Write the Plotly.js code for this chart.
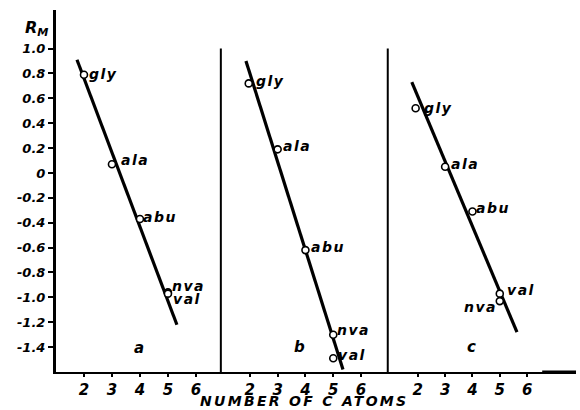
<!DOCTYPE html>
<html>
<head>
<meta charset="utf-8">
<script src="https://cdn.plot.ly/plotly-3.0.1.min.js"></script>
<style>html,body{margin:0;padding:0;background:#fff;}#chart{width:580px;height:410px;}</style>
</head>
<body>
<div id="chart"></div>
<script>
// ---- data ----
const aminoAcids = ['gly', 'ala', 'abu', 'nva', 'val'];
const carbonsA = [2, 3, 4, 5, 5];
const rmA = [0.79, 0.07, -0.37, -0.96, -0.97];
const carbonsB = [1.96, 3, 4, 5, 5];
const rmB = [0.72, 0.19, -0.62, -1.30, -1.49];
const carbonsC = [1.92, 3, 4, 5, 5];
const rmC = [0.52, 0.05, -0.31, -1.03, -0.97];
const fitXA = [1.75, 5.32], fitYA = [0.91, -1.22];
const fitXB = [1.86, 5.35], fitYB = [0.90, -1.58];
const fitXC = [1.78, 5.63], fitYC = [0.73, -1.28];
const panelLetters = ['a', 'b', 'c'];
const xTickVals = [2, 3, 4, 5, 6];
const yTickVals = [1.0, 0.8, 0.6, 0.4, 0.2, 0, -0.2, -0.4, -0.6, -0.8, -1.0, -1.2, -1.4];
const yTickText = ['1.0', '0.8', '0.6', '0.4', '0.2', '0', '-0.2', '-0.4', '-0.6', '-0.8', '-1.0', '-1.2', '-1.4'];
const xTitle = 'NUMBER OF C ATOMS';

// ---- styling ----
const FONT = 'DejaVu Sans, Verdana, sans-serif';
const f = (size) => ({family: FONT, size: size, color: '#000', weight: 'bold', style: 'italic'});
const spaced = (t, px) => '<span style="letter-spacing:' + px + 'px">' + t + '</span>';

const panels = [
  {xs: carbonsA, ys: rmA, fx: fitXA, fy: fitYA, xa: 'x', ya: 'y'},
  {xs: carbonsB, ys: rmB, fx: fitXB, fy: fitYB, xa: 'x2', ya: 'y'},
  {xs: carbonsC, ys: rmC, fx: fitXC, fy: fitYC, xa: 'x3', ya: 'y'}
];
// label offsets (px) per panel per amino acid: [xshift, yshift, anchor]
const labelOffsets = [
  [[4, 1, 'left'], [8, 4, 'left'], [2, 2, 'left'], [3, 6, 'left'], [4, -5, 'left']],
  [[6, 2, 'left'], [4, 3, 'left'], [5, 3, 'left'], [3, 5, 'left'], [4, 3, 'left']],
  [[7, 0, 'left'], [5, 3, 'left'], [3, 4, 'left'], [-2, -6, 'right'], [6, 4, 'left']]
];

const traces = [];
const annotations = [];
panels.forEach((p, i) => {
  traces.push({x: p.fx, y: p.fy, xaxis: p.xa, yaxis: p.ya, mode: 'lines',
    line: {color: '#000', width: 3.2}, hoverinfo: 'skip', showlegend: false});
  traces.push({x: p.xs, y: p.ys, xaxis: p.xa, yaxis: p.ya, mode: 'markers',
    marker: {symbol: 'circle', size: 7, color: '#fff', line: {color: '#000', width: 1.6}},
    showlegend: false, text: aminoAcids});
  aminoAcids.forEach((name, j) => {
    const o = labelOffsets[i][j];
    annotations.push({x: p.xs[j], y: p.ys[j], xref: p.xa, yref: p.ya, text: spaced(name, 1.5),
      showarrow: false, xanchor: o[2], yanchor: 'middle', xshift: o[0], yshift: o[1],
      borderpad: 0, font: f(14)});
  });
});
const letterPos = [[3.96, -1.41], [3.8, -1.40], [3.96, -1.40]];
panelLetters.forEach((t, i) => {
  annotations.push({x: letterPos[i][0], y: letterPos[i][1], xref: panels[i].xa, yref: 'y',
    text: t, showarrow: false, font: f(15)});
});
annotations.push({x: 0.4775, y: 0, xref: 'paper', yref: 'paper', xanchor: 'center', yanchor: 'bottom',
  yshift: -38, text: spaced(xTitle, 2.3), showarrow: false, borderpad: 0, font: f(14)});
annotations.push({x: 0, y: 1, xref: 'paper', yref: 'paper', xanchor: 'right', yanchor: 'top',
  xshift: -7, yshift: -7, text: 'R<sub>M</sub>', showarrow: false, borderpad: 0, font: f(16)});

const xax = (dom, rng) => ({domain: dom, range: rng, anchor: 'y', showgrid: false, zeroline: false,
  showline: true, linewidth: 2, linecolor: '#000', ticks: 'outside', ticklen: 3, tickwidth: 2,
  tickcolor: '#000', tickvals: xTickVals, tickfont: f(15), fixedrange: true});

const layout = {
  width: 580, height: 410,
  margin: {l: 56, r: 4, t: 10, b: 38},
  paper_bgcolor: '#fff', plot_bgcolor: '#fff',
  showlegend: false,
  xaxis: xax([0, 0.317], [1.0, 6.89]),
  xaxis2: xax([0.317, 0.638], [0.957, 6.96]),
  xaxis3: xax([0.638, 1], [0.90, 7.79]),
  yaxis: {range: [-1.6, 1.31], anchor: 'x', showgrid: false, zeroline: false, showline: true,
    linewidth: 3, linecolor: '#000', ticks: 'outside', ticklen: 5, tickwidth: 2, tickcolor: '#000',
    tickvals: yTickVals, ticktext: yTickText, tickfont: f(13), fixedrange: true},
  shapes: [
    {type: 'line', xref: 'paper', yref: 'y', x0: 0.317, x1: 0.317, y0: -1.6, y1: 1.0, line: {color: '#000', width: 2}},
    {type: 'line', xref: 'paper', yref: 'y', x0: 0.638, x1: 0.638, y0: -1.6, y1: 1.0, line: {color: '#000', width: 2}},
    {type: 'line', xref: 'paper', yref: 'y', x0: 0.935, x1: 1.0, y0: -1.6, y1: -1.6, line: {color: '#000', width: 3}}
  ],
  annotations: annotations
};

Plotly.newPlot('chart', traces, layout, {displayModeBar: false, staticPlot: true});
</script>
</body>
</html>
